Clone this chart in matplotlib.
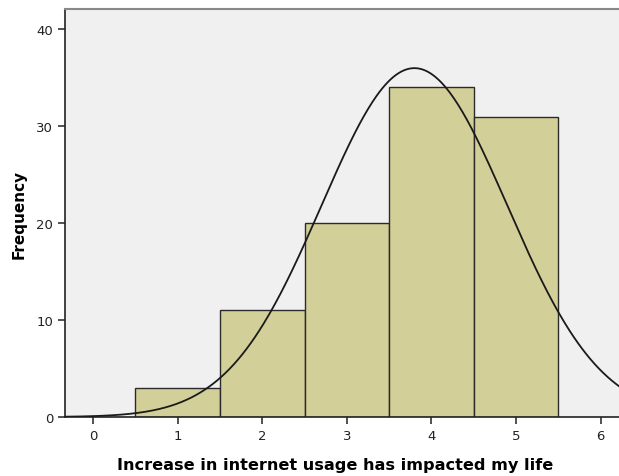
import numpy as np
import matplotlib.pyplot as plt

# --- Data ---
scores = [1, 2, 3, 4, 5]
counts = [3, 11, 20, 34, 31]
y_ticks = [0, 10, 20, 30, 40]
x_ticks = [0, 1, 2, 3, 4, 5, 6]

plt.rcParams['font.family'] = ['DejaVu Sans']

# normal curve fitted to the counts (as SPSS does)
vals = np.repeat(scores, counts)
n = len(vals)
mu = vals.mean()
sd = vals.std(ddof=1)

fig = plt.figure(figsize=(6.19, 4.77), dpi=100)
ax = fig.add_axes([65 / 619, 59 / 477, 1.0 - 65 / 619 + 0.002, 408 / 477])
ax.set_facecolor('#F0F0F0')

ax.bar(scores, counts, width=1.0, color='#D3CF98', edgecolor='#2b2b2b', linewidth=1.0, zorder=2)

xs = np.linspace(-0.35, 6.3, 400)
pdf = n * 1.0 / (sd * np.sqrt(2 * np.pi)) * np.exp(-0.5 * ((xs - mu) / sd) ** 2)
ax.plot(xs, pdf, color='#1a1a1a', linewidth=1.3, zorder=3)

ax.set_xlim(-0.33, 6.23)
ax.set_ylim(0, 42.1)
ax.set_xticks(x_ticks)
ax.set_yticks(y_ticks)
ax.tick_params(direction='out', length=5, width=1.2, color='#333333', labelsize=9.5, labelcolor='#222222')

for side in ['left', 'bottom']:
    ax.spines[side].set_color('#222222')
    ax.spines[side].set_linewidth(1.2)
ax.spines['top'].set_color('#888888')
ax.spines['top'].set_linewidth(1.5)
ax.spines['right'].set_visible(False)

ax.set_xlabel('Increase in internet usage has impacted my life', fontsize=11.6, fontweight='bold', labelpad=11)
ax.xaxis.label.set_x(0.486)
ax.set_ylabel('Frequency', fontsize=11, fontweight='bold', labelpad=7)

plt.savefig('out.png', dpi=100)
